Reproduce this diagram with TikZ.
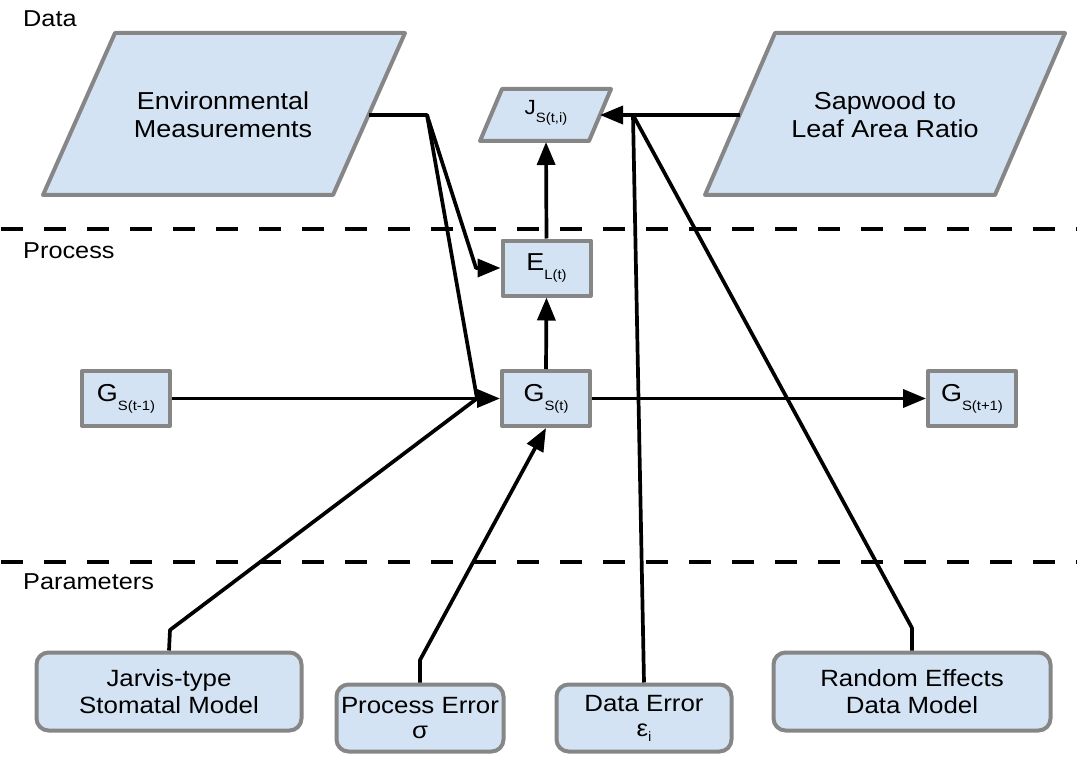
\documentclass[tikz,border=0pt]{standalone}
\usepackage{fontspec}
\setmainfont{Liberation Sans}[FakeStretch=1.1]
\usetikzlibrary{arrows.meta}
\definecolor{boxfill}{RGB}{212,227,243}
\definecolor{boxline}{RGB}{134,134,134}
% lowered, smaller subscript as used in the variable names
\newcommand\lowsub[2][9pt]{\raisebox{-#1}{\fontsize{13.5}{13.5}\selectfont #2}}

\begin{document}
\begin{tikzpicture}[x=1pt,y=-1pt,
  shapeline/.style={draw=boxline, line width=4pt, fill=boxfill, line join=round},
  procbox/.style={shapeline, rectangle, minimum width=88pt, minimum height=55pt,
    inner sep=0pt, font=\fontsize{24.5}{24.5}\selectfont},
  parambox/.style={shapeline, rounded corners=12pt, inner sep=0pt, align=center,
    font=\fontsize{23.5}{27}\selectfont},
  datatext/.style={align=center, inner sep=0pt, font=\fontsize{24.5}{28}\selectfont},
  layerlabel/.style={anchor=base west, inner sep=0pt, font=\fontsize{23}{23}\selectfont},
  divider/.style={line width=4.5pt, dash pattern=on 22pt off 21pt},
  link/.style={line width=3.7pt, line join=round},
  arrowlink/.style={link, -{Triangle[length=23pt,width=18pt]}},
]
\useasboundingbox (0,0) rectangle (1077,757);

% layer separators and their labels
\draw[divider] (1,229) -- (1077,229);
\draw[divider] (1,562) -- (1077,562);
\node[layerlabel] (lbldata) at (23,27) {Data};
\node[layerlabel] (lblproc) at (23,258) {Process};
\node[layerlabel] (lblpar) at (23,589) {Parameters};

% data layer: parallelograms
\draw[shapeline] (115,33) -- (405,33) -- (333,195) -- (43,195) -- cycle;
\node[datatext] (env) at (223,115) {Environmental\\Measurements};
\coordinate (envout) at (369,115);

\draw[shapeline] (775,33) -- (1065,33) -- (995,195) -- (705,195) -- cycle;
\node[datatext] (sap) at (885,115) {Sapwood to\\Leaf Area Ratio};
\coordinate (sapout) at (740,115);

\draw[shapeline] (502,89) -- (611,89) -- (589,141) -- (480,141) -- cycle;
\node[inner sep=0pt, font=\fontsize{20.5}{20.5}\selectfont] (J) at (546,113) {J\lowsub[8pt]{S(t,i)}};
\coordinate (Jin) at (600,115);
\coordinate (Jbot) at (546,142);

% process layer
\node[procbox] (E) at (546.5,268) {E\lowsub{L(t)}};
\node[procbox] (Gm1) at (126,398.5) {G\lowsub{S(t-1)}};
\node[procbox] (G) at (546,398.5) {G\lowsub{S(t)}};
\node[procbox] (Gp1) at (972,398.5) {G\lowsub{S(t+1)}};

% parameter layer
\node[parambox, minimum width=265pt, minimum height=78pt] (jarvis) at (169,691.5) {Jarvis-type\\Stomatal Model};
\node[parambox, minimum width=167pt, minimum height=67pt, font=\fontsize{23.5}{25}\selectfont] (perr) at (420,718) {Process Error\\σ};
\node[parambox, minimum width=175pt, minimum height=67pt, font=\fontsize{23.5}{25}\selectfont] (derr) at (644,718) {Data Error\\ε\lowsub[5pt]{i}};
\node[parambox, minimum width=277pt, minimum height=78pt] (ranef) at (912,691.5) {Random Effects\\Data Model};

% bend points of the connectors
\coordinate (envsplit) at (427,115);
\coordinate (ebend) at (476,268);
\coordinate (gbend) at (477,398.5);
\coordinate (jvbend) at (170,630);
\coordinate (pebend) at (420,660);
\coordinate (jsplit) at (633,115);
\coordinate (rebend) at (912,628);

% connectors
\draw[arrowlink] (envout) -- (envsplit) -- (ebend) -- (E.west);
\draw[link] (envsplit) -- (gbend);
\draw[link] (jarvis.north) -- (jvbend) -- (gbend);
\draw[arrowlink] (Gm1.east) -- (G.west);
\draw[arrowlink] (G.east) -- (Gp1.west);
\draw[arrowlink] (G.north) -- (E.south);
\draw[arrowlink] (E.north) -- (Jbot);
\draw[arrowlink] (perr.north) -- (pebend) -- (G.south);
\draw[arrowlink] (sapout) -- (Jin);
\draw[link] (derr.north) -- (jsplit);
\draw[link] (ranef.north) -- (rebend) -- (jsplit);
\end{tikzpicture}
\end{document}
